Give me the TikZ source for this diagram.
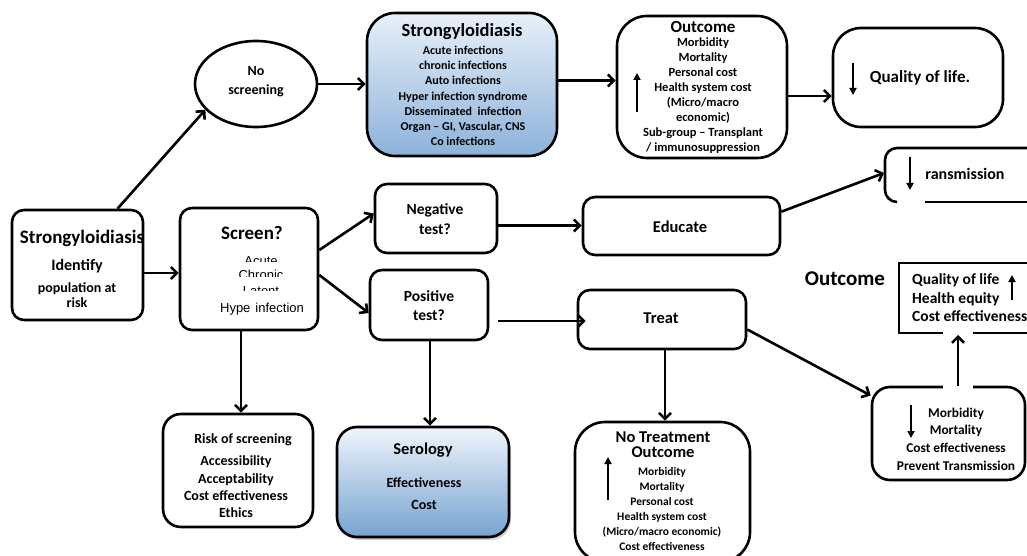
\documentclass[tikz,border=0pt]{standalone}
\usepackage{fontspec}
\setmainfont{Carlito}
\newfontfamily\arialf{Liberation Sans}
\usetikzlibrary{arrows.meta,shapes.geometric,shadows,calc}
\newcommand\fs[2]{\fontsize{#1}{#2}\selectfont}
\definecolor{bluetop}{RGB}{232,240,249}
\definecolor{bluebot}{RGB}{140,178,218}
\definecolor{serbot}{RGB}{118,163,210}
\tikzset{
  box/.style={draw, line width=2.6pt, rounded corners=#1, inner sep=0pt, fill=white},
  box/.default=12pt,
  arr/.style={line width=2.6pt, -{Straight Barb[length=6pt,width=12pt]}},
  sarr/.style={line width=2.4pt, -{Triangle[length=7pt,width=7pt]}},
  txt/.style={font=\bfseries, align=center, inner sep=0pt},
}
\begin{document}
\begin{tikzpicture}[x=1pt,y=-1pt]
\clip (0,0) rectangle (1027,556);
\fill[white] (0,0) rectangle (1027,556);

% ---------- boxes ----------
\node[box, minimum width=131pt, minimum height=110pt] (start) at (77.5,265) {};
\node[box, minimum width=138pt, minimum height=122pt] (screen) at (249,269) {};
\node[draw, ellipse, line width=2.6pt, minimum width=122pt, minimum height=86pt, inner sep=0pt] (noscr) at (256,84) {};
\node[box=28pt, minimum width=190pt, minimum height=143pt, top color=bluetop, bottom color=bluebot] (strong) at (462,84.5) {};
\node[box=30pt, minimum width=170pt, minimum height=142pt] (outc) at (702,87) {};
\node[box=28pt, minimum width=170pt, minimum height=99pt] (qol) at (918,77.5) {};
\node[box, minimum width=122pt, minimum height=69pt] (neg) at (436,218.5) {};
\node[box, minimum width=118pt, minimum height=70pt] (pos) at (429,305) {};
\node[box, minimum width=197pt, minimum height=58pt] (edu) at (681.5,226) {};
\node[box, minimum width=168pt, minimum height=59pt] (treat) at (662,319.5) {};
\node[box=18pt, minimum width=150pt, minimum height=113pt] (risk) at (238,470.5) {};
\node[box=20pt, minimum width=172pt, minimum height=110pt, top color=bluetop!70!white, bottom color=serbot,
      drop shadow={shadow xshift=2pt, shadow yshift=-3pt, opacity=0.35}] (ser) at (423,482) {};
\node[box=30pt, minimum width=175pt, minimum height=140pt] (notr) at (662.5,492) {};
\node[box=18pt, minimum width=153pt, minimum height=93pt] (morb) at (948.5,433.5) {};
\fill[white] (943,380) rectangle (973,394);

% transmission (partial box)
\draw[line width=2.6pt, rounded corners=12pt] (1035,148) -- (885,148) -- (885,202) -- (897,202);
\draw[line width=2.6pt] (925,202) -- (1035,202);
\coordinate (trans) at (884,173);

% outcome rectangle (partial)
\draw[line width=2.6pt] (1035,263) -- (899,263) -- (899,333) -- (943,333);
\draw[line width=2.6pt] (973,333) -- (1035,333);
\coordinate (orect) at (958,335);

% ---------- texts ----------
\node[txt, font=\fs{19}{22}\bfseries] (startT) at (82,238) {Strongyloidiasis};
\node[txt, font=\fs{16}{19}\bfseries] (startI) at (77,266) {Identify};
\node[txt, font=\fs{14}{15}\bfseries] (startP) at (77,295) {population at\\risk};

\node[txt, font=\fs{19}{22}\bfseries] (screenT) at (252,233) {Screen?};
\node[inner sep=0pt, anchor=base, font=\fs{13}{15}\arialf] (sAc) at (261,265.5) {Acute};
\node[inner sep=0pt, anchor=base, font=\fs{13}{15}\arialf] (sCh) at (261,279.5) {Chronic};
\node[inner sep=0pt, anchor=base, font=\fs{13}{15}\arialf] (sLa) at (261,295.5) {Latent};
\fill[white] (222,262.3) rectangle (302,268.5);
\fill[white] (222,277.3) rectangle (302,284.5);
\fill[white] (222,291.3) rectangle (302,299.5);
\node[inner sep=0pt, anchor=base, font=\fs{13}{15}\arialf] (sHy) at (262,312) {Hype\hspace{5pt}infection};

\node[txt, font=\fs{14}{19}\bfseries] (noscrT) at (256,82) {No\\screening};

\node[txt, font=\fs{18.5}{22}\bfseries] (strongT) at (462,32) {Strongyloidiasis};
\node[txt, font=\fs{12}{15.2}\bfseries] (strongL) at (463,96) {Acute infections\\chronic infections\\Auto infections\\Hyper infection syndrome\\Disseminated\ \ infection\\Organ -- GI, Vascular, CNS\\Co infections};

\node[txt, font=\fs{17}{20}\bfseries] (outcT) at (703,27) {Outcome};
\node[txt, font=\fs{12.5}{15}\bfseries] (outcL) at (703,96) {Morbidity\\Mortality\\Personal cost\\Health system cost\\(Micro/macro\\economic)\\Sub-group -- Transplant\\/ immunosuppression};
\draw[sarr] (637,112) -- (637,73);

\node[txt, font=\fs{17}{20}\bfseries] (qolT) at (920,78) {Quality of life.};
\draw[sarr] (853,63) -- (853,95);

\node[txt, font=\fs{16}{19}\bfseries] (transT) at (965,174) {ransmission};
\draw[sarr] (910,157) -- (910,190);

\node[txt, font=\fs{15.5}{19.5}\bfseries] (negT) at (435,219) {Negative\\test?};
\node[txt, font=\fs{15.5}{19.5}\bfseries] (posT) at (429,305.5) {Positive\\test?};
\node[txt, font=\fs{16.5}{19}\bfseries] (eduT) at (680,227) {Educate};
\node[txt, font=\fs{16.5}{19}\bfseries] (treatT) at (661,318) {Treat};

\node[txt, font=\fs{14}{17}\bfseries] (riskT) at (243,440) {Risk of screening};
\node[txt, font=\fs{14}{17.3}\bfseries] (riskL) at (236,487) {Accessibility\\Acceptability\\Cost effectiveness\\Ethics};

\node[txt, font=\fs{16.5}{19}\bfseries] (serT) at (423,450) {Serology};
\node[txt, font=\fs{14}{17}\bfseries] (serE) at (424,483) {Effectiveness};
\node[txt, font=\fs{14}{17}\bfseries] (serC) at (424,505) {Cost};

\node[txt, font=\fs{16.5}{15}\bfseries] (notrT) at (663,445) {No Treatment\\Outcome};
\node[txt, font=\fs{11.5}{15}\bfseries] (notrL) at (662,509) {Morbidity\\Mortality\\Personal cost\\Health system cost\\(Micro/macro economic)\\Cost effectiveness};
\draw[sarr] (608,500) -- (608,457);

\node[txt, font=\fs{21}{24}\bfseries] (outLbl) at (845,279) {Outcome};
\node[txt, align=left, anchor=west, font=\fs{15.5}{18.5}\bfseries] (orectT) at (912,298) {Quality of life\\Health equity\\Cost effectiveness};
\draw[sarr] (1012,300) -- (1012,275);

\node[txt, font=\fs{13.4}{17.7}\bfseries] (morbL) at (956,439) {Morbidity\\Mortality\\Cost effectiveness\\Prevent Transmission};
\draw[sarr] (911,405) -- (911,438);

% ---------- connectors ----------
\draw[arr] ([xshift=40pt]start.north) -- (noscr.207);
\draw[arr] (noscr.east) -- (noscr.east -| strong.west);
\draw[arr] ([yshift=4pt]strong.east) -- ([yshift=4pt]strong.east -| outc.west);
\draw[arr] ([yshift=-9pt]outc.east) -- ([yshift=-9pt]outc.east -| qol.west);
\draw[arr] ([yshift=-8pt]start.east) -- ([yshift=-8pt]start.east -| screen.west);
\draw[arr] ([yshift=19pt]screen.east) -- ([yshift=5pt]neg.west);
\draw[arr] ([yshift=-6pt]screen.east) -- ([yshift=-8pt]pos.west);
\draw[arr] ([yshift=-7pt]neg.east) -- ([yshift=-7pt]neg.east -| edu.west);
\draw[arr] ($(edu.north east)+(0,16)$) -- (trans);
\draw[arr] ([xshift=9pt,yshift=-16pt]pos.east) -- ([xshift=9pt,yshift=-16pt]pos.east -| treat.west);
\draw[arr] (screen.south -| 241,0) -- (risk.north -| 241,0);
\draw[arr] (pos.south -| 430,0) -- (ser.north -| 430,0);
\draw[arr] (treat.south -| 665,0) -- (notr.north -| 665,0);
\draw[arr] ([yshift=-10pt]treat.east) -- ([yshift=38pt]morb.west);
\draw[arr] (morb.north -| 958,0) -- (orect);
\end{tikzpicture}
\end{document}
